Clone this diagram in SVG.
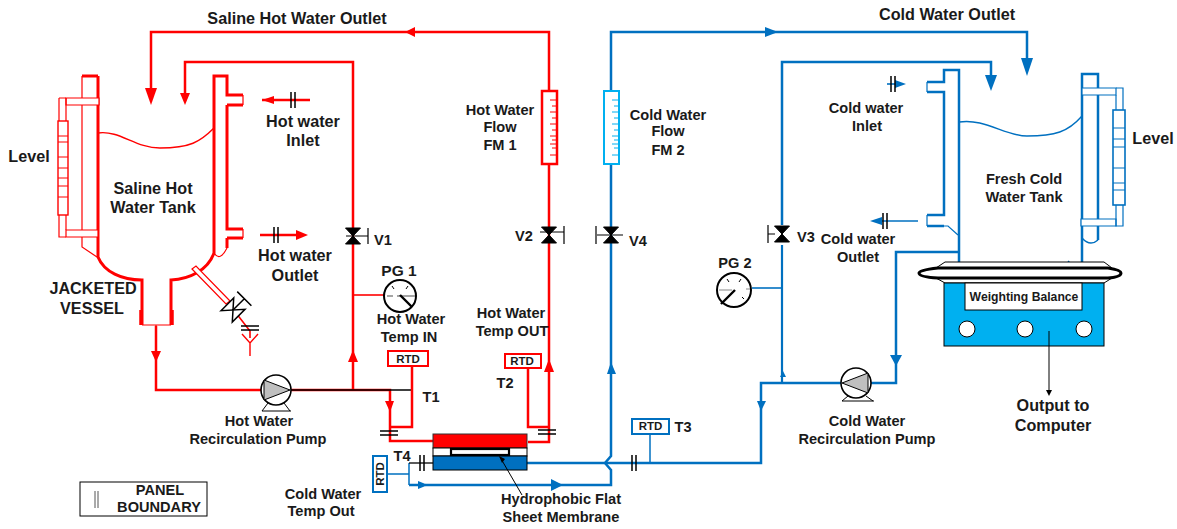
<svg xmlns="http://www.w3.org/2000/svg" width="1177" height="529" viewBox="0 0 1177 529">
<style>
text{font-family:"Liberation Sans",Arial,sans-serif;font-weight:700;font-size:14.6px;fill:#1a1a1a;text-anchor:middle}
text.l{font-size:16.2px}
.r,.b,.k{fill:none}
.r{stroke:#f00}.b{stroke:#0070c0}.k{stroke:#000}
.t3{stroke-width:3}.t2{stroke-width:2.5}.t1{stroke-width:1.2}
.fr{fill:#f00}.fb{fill:#0070c0}.fk{fill:#000}
.w{fill:#fff}
text.rtd{font-size:11.5px}
</style>
<defs>
<g id="valve"><path d="M-7.500 -8H7.500L-7.500 8H7.500Z" fill="#000" stroke="#000" stroke-width="1"/></g>
<g id="brk"><path d="M-2 -8V8M2 -8V8" class="k" stroke-width="1.5"/></g>
<g id="brkv"><path d="M-9 -2H9M-9 2H9" class="k" stroke-width="1.5"/></g>
</defs>

<g id="connectors">
<path class="r t2" d="M549 91V32H151V92"/>
<path class="r t2" d="M353 390V62H185V95"/>
<path class="r t2" d="M549 164V442H528"/>
<path class="r t2" d="M549 427H528V368"/>
<path class="r t2" d="M156 326V390H262"/>
<path class="r t2" d="M291 390H390V441H433"/>
<path class="k" stroke-width="1.3" d="M291 390H412"/>
<path class="r t2" d="M390 427H412V366"/>
<path class="r" stroke-width="1.6" d="M353 295H384"/>
<path class="r" stroke-width="1.6" d="M236 313L250 331V338"/>
<path class="r" stroke-width="1.4" d="M242 334L250 343L258 334M250 343V356"/>
<polygon class="fr" points="415,27 415,37 405,32"/>
<polygon class="fr" points="145,88 157,88 151,105"/>
<polygon class="fr" points="180,93 190,93 185,105"/>
<polygon class="fr" points="151,351 161,351 156,362"/>
<polygon class="fr" points="348,362 358,362 353,350"/>
<polygon class="fr" points="385,401 394,401 390,412"/>
<polygon class="fr" points="544,372 554,372 549,359"/>
<path class="r t2" d="M262 100H310"/>
<polygon class="fr" points="262,100 274,96 274,104"/>
<path class="r t2" d="M260 235H296"/>
<polygon class="fr" points="296,230 308,235 296,240"/>

<path class="b t2" d="M611 91V32H1027V62"/>
<path class="b t2" d="M782 225V62H991V75"/>
<path class="b t2" d="M527 463H761V383H841M871 383H896V252H959"/>
<path class="b t2" d="M611 164V456L605 463L611 470V485H409"/>
<path class="b" stroke-width="1.5" d="M409 463V485M409 474H387"/>
<path class="k" stroke-width="1.3" d="M409 463H433"/>
<path class="b" stroke-width="1.5" d="M650 434V463"/>
<path class="b" stroke-width="1.6" d="M752 288H782"/>
<path class="b" stroke-width="2.2" d="M782 245V383"/>
<path fill="#fff" d="M421 480H425V490H421Z"/>
<polygon class="fb" points="765,27 778,32 765,37"/>
<polygon class="fb" points="1021,58 1033,58 1027,76"/>
<polygon class="fb" points="985,75 997,75 991,91"/>
<polygon class="fb" points="607,374 616,374 611,362"/>
<polygon class="fb" points="418,481 418,489 428,485"/>
<polygon class="fb" points="551,479 551,491 563,485"/>
<polygon class="fb" points="890,355 902,355 896,366"/>
<polygon class="fb" points="757,401 766,401 761,411"/>
<polygon class="fb" points="780,377 786,377 783,371"/>
<path class="b" stroke-width="1.6" d="M887 84H900"/>
<polygon class="fb" points="895,80 906,84 895,88"/>
<path class="b" stroke-width="1.6" d="M880 221H918"/>
<polygon class="fb" points="870,221 882,217 882,225"/>
</g>

<g id="breaks">
<use href="#brk" x="293" y="100"/>
<use href="#brk" x="276" y="235"/>
<use href="#brkv" x="250" y="328"/>
<use href="#brkv" x="389" y="433"/>
<use href="#brkv" x="547" y="432"/>
<use href="#brk" x="422" y="463"/>
<use href="#brk" x="634" y="463"/>
<use href="#brk" x="893" y="84"/>
<use href="#brk" x="885" y="221"/>
</g>

<g id="saline-tank">
<path class="r t3" d="M98 76V257C104 272 122 280 142 280V325M98 76H82M171 325V280C190 279 208 270 214 253V76H227V95H243M227 105H243M227 105V229H243M227 238H243M227 238V248M227 95V76"/>
<path class="r t1" d="M82 76V247L97 257M243 95V105M243 229V238M214 253Q220 262 227 248"/>
<path class="r t1" d="M142 325H171M156 325V330"/>
<path class="r" stroke-width="3.5" d="M141 310V325M172 310V325"/>
<path class="r" stroke-width="1.4" d="M98 133C120 130 135 148 160 148C190 148 200 142 214 128"/>
</g>
<g id="saline-level">
<path class="r t1 w" d="M66 98H99V105H66ZM66 230H98V237H66Z"/>
<path class="r t1" d="M59 98V121M59 215V237H66M59 98H66M66 98V121M66 215V230"/>
<rect class="r w" stroke-width="1.4" x="58" y="121" width="10" height="94"/>
<path class="r t1" d="M58 136H68M58 142H68M58 157H68M58 168H68M58 178H68M58 186H68M58 197H68"/>
</g>
<g id="drain">
<path class="r t1 w" d="M192 269L196 266L230 301L226 304Z"/>
<g transform="translate(233 310) rotate(-45)"><path d="M-9 -8H9L-9 8H9Z" fill="#fff" stroke="#000" stroke-width="1.5"/><path class="k" stroke-width="1.5" d="M0 0H16M16 -10V10"/></g>
</g>

<g id="cold-tank">
<path class="b t2" d="M959 262V70H944V82H927M927 92H944V215H927M927 226H944"/>
<path class="b t1" d="M927 82V92M927 215V226M944 226H948L958 235"/>
<path class="b t2" d="M1082 262V74H1098V240"/>
<path class="b" stroke-width="1.4" d="M959 122C985 118 1005 136 1027 136C1055 136 1068 132 1082 116M1082 238Q1090 247 1098 240M1068 261L1074 267"/>
</g>
<g id="cold-level">
<path class="b t1 w" d="M1082 88H1116V95H1082ZM1081 219H1116V226H1081Z"/>
<path class="b t1" d="M1116 88H1123V110M1116 95V110M1116 205V226H1123V205"/>
<rect class="b w" stroke-width="1.6" x="1113" y="110" width="12" height="95"/>
<path class="b t1" d="M1113 128H1125M1113 139H1125M1113 147H1125M1113 168H1125M1113 183H1125M1113 190H1125"/>
</g>
<g id="balance">
<path class="k w" stroke-width="1" d="M936 268L945 262H1104L1112 268M936 278L945 283H1104L1112 278"/>
<path class="k w" stroke-width="3" d="M938 268H1108Q1121 270 1121 273Q1121 277 1108 278H938Q919 277 919 273Q919 270 938 268Z"/>
<rect x="944" y="283" width="160" height="63" fill="#00b0f0" stroke="#000" stroke-width="1"/>
<rect x="965" y="283" width="117" height="27" class="w" stroke="#000" stroke-width="1"/>
<circle cx="967" cy="329" r="8" class="w" stroke="#000"/>
<circle cx="1025" cy="329" r="8" class="w" stroke="#000"/>
<circle cx="1084" cy="329" r="8" class="w" stroke="#000"/>
<path class="k" d="M1049 331V392"/>
<polygon class="fk" points="1046,390 1052,390 1049,396"/>
<text x="1024" y="301" style="font-size:12.2px">Weighting Balance</text>
</g>

<g id="fm1">
<rect x="542" y="91" width="15" height="73" class="w r t2"/>
<path class="r" d="M550 100H557M552 106H557M550 112H557M552 118H557M550 124H557M552 130H557M550 136H557M552 140H557M550 144H557M552 148H557M550 155H557"/>
</g>
<g id="fm2">
<rect x="604" y="91" width="15" height="73" class="w" stroke="#00b0f0" stroke-width="2"/>
<path stroke="#00b0f0" d="M612 100H619M614 106H619M612 112H619M614 118H619M612 124H619M614 130H619M612 136H619M614 140H619M612 144H619M614 148H619M612 155H619"/>
</g>
<g id="v1"><use href="#valve" x="353" y="236"/><path class="k t1" d="M346 236H368M368 228V244"/></g>
<g id="v2"><use href="#valve" x="549" y="235"/><path class="k t1" d="M540 232H564M564 226V244"/></g>
<g id="v3"><use href="#valve" x="782" y="234"/><path class="k t1" d="M768 234H775M768 225V243"/></g>
<g id="v4"><use href="#valve" x="611" y="235"/><path class="k t1" d="M597 235H623M596 226V244"/></g>

<g id="pg1">
<circle cx="400" cy="296" r="16" class="w k" stroke-width="2"/>
<path stroke="#888" stroke-width="1.5" d="M387 296H393M397 296H415"/>
<path class="k" stroke-width="2.4" d="M400 295L412 307"/>
<path class="k" d="M392 286L394 289M408 286L406 289"/>
</g>
<g id="pg2">
<circle cx="734" cy="290" r="17" class="w k" stroke-width="2"/>
<path stroke="#888" stroke-width="1.2" d="M719 290H732M746 289H750"/>
<path class="k" stroke-width="2.4" d="M735 290L721 304"/>
<path class="k" d="M727 279L729 282M741 279L739 282M742 297L744 299"/>
</g>
<g id="pump1">
<circle cx="276" cy="390" r="15" class="w k" stroke-width="1.6"/>
<polygon points="264,380 264,400 290,390" fill="#bfbfbf" stroke="#000"/>
<path class="k w" d="M262 411L268 403M290 411L284 403M262 411H291"/>
</g>
<g id="pump2">
<circle cx="856" cy="383" r="15" class="w k" stroke-width="1.6"/>
<polygon points="868,373 868,393 842,383" fill="#bfbfbf" stroke="#000"/>
<path class="k w" d="M842 401L848 396M873 401L866 396M842 401H874"/>
</g>

<g id="membrane">
<rect x="433" y="434" width="94" height="14" fill="#f00" stroke="#333"/>
<rect x="433" y="448" width="94" height="8" class="w k"/>
<rect x="433" y="456" width="94" height="14" fill="#0070c0" stroke="#000"/>
<rect x="451" y="449" width="58" height="6" class="w k" stroke-width="2.2"/>
<path class="k" d="M500 457L522 495"/>
<polygon class="fk" points="499,456 505,459 502,463"/>
<text x="561" y="504">Hydrophobic Flat</text>
<text x="561" y="522">Sheet Membrane</text>
</g>

<g id="rtd1"><rect x="388" y="351" width="40" height="15" class="w r" stroke-width="2"/><text class="rtd" x="408" y="362.500">RTD</text></g>
<g id="rtd2"><rect x="505" y="354" width="36" height="14" class="w r" stroke-width="2"/><text class="rtd" x="522" y="365">RTD</text></g>
<g id="rtd3"><rect x="632" y="419" width="37" height="15" class="w" stroke="#0070c0" stroke-width="2"/><text class="rtd" x="650.500" y="430">RTD</text></g>
<g id="rtd4"><rect x="373" y="456" width="14" height="36" class="w" stroke="#0070c0" stroke-width="2"/><text class="rtd" transform="translate(384 474) rotate(-90)" x="0" y="0">RTD</text></g>

<g id="panel">
<rect x="80" y="482" width="127" height="34" class="w" stroke="#000"/>
<path stroke="#555" d="M95 491V508M98 491V508"/>
<text x="160" y="495">PANEL</text>
<text x="159" y="512">BOUNDARY</text>
</g>

<g id="labels">
<text class="l" x="297" y="24">Saline Hot Water Outlet</text>
<text class="l" x="947" y="20">Cold Water Outlet</text>
<text class="l" x="29" y="162">Level</text>
<text class="l" x="1153" y="144">Level</text>
<text x="153" y="194" class="l">Saline Hot</text>
<text x="153" y="213" class="l">Water Tank</text>
<text class="l" x="303" y="127">Hot water</text>
<text class="l" x="303" y="146">Inlet</text>
<text class="l" x="295" y="261">Hot water</text>
<text class="l" x="295" y="281">Outlet</text>
<text class="l" x="93" y="294">JACKETED</text>
<text class="l" x="92" y="314">VESSEL</text>
<text x="383" y="245">V1</text>
<text x="399" y="276" style="font-size:15.500px">PG 1</text>
<text x="411" y="324">Hot Water</text>
<text x="409" y="342">Temp IN</text>
<text x="500" y="115">Hot Water</text>
<text x="500" y="132">Flow</text>
<text x="500" y="150">FM 1</text>
<text x="668" y="120">Cold Water</text>
<text x="668" y="136">Flow</text>
<text x="668" y="155">FM 2</text>
<text x="524" y="241">V2</text>
<text x="638" y="246">V4</text>
<text x="806" y="242">V3</text>
<text x="735" y="268">PG 2</text>
<text x="511" y="318">Hot Water</text>
<text x="512" y="336">Temp OUT</text>
<text x="505" y="388">T2</text>
<text x="431" y="402">T1</text>
<text x="683" y="432">T3</text>
<text x="402" y="461">T4</text>
<text x="259" y="426">Hot Water</text>
<text x="258" y="444">Recirculation Pump</text>
<text x="867" y="426">Cold Water</text>
<text x="867" y="444">Recirculation Pump</text>
<text x="323" y="499">Cold Water</text>
<text x="321" y="516">Temp Out</text>
<text x="866" y="113">Cold water</text>
<text x="867" y="131">Inlet</text>
<text x="858" y="244">Cold water</text>
<text x="858" y="262">Outlet</text>
<text x="1024" y="184">Fresh Cold</text>
<text x="1024" y="202">Water Tank</text>
<text class="l" x="1053" y="411">Output to</text>
<text class="l" x="1053" y="431">Computer</text>
</g>
</svg>
